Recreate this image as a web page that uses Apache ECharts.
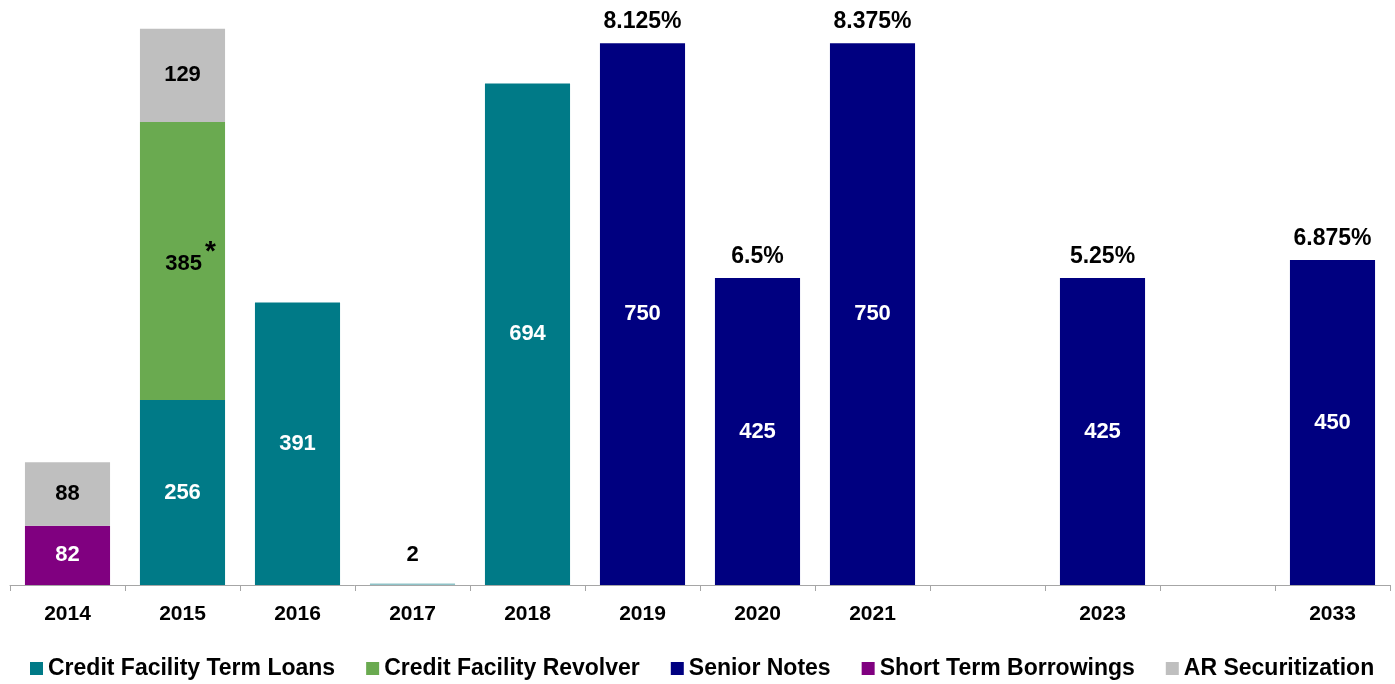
<!DOCTYPE html>
<html>
<head>
<meta charset="utf-8">
<script src="https://cdn.jsdelivr.net/npm/echarts@6/dist/echarts.min.js"></script>
<style>
html,body{margin:0;padding:0;background:#fff;}
#chart{width:1395px;height:684px;}
</style>
</head>
<body>
<div id="chart"></div>
<script>
const categories = ['2014','2015','2016','2017','2018','2019','2020','2021','','2023',' ','2033'];
const termLoans   = [null, 256, 391, 2, 694, null, null, null, null, null, null, null];
const revolver    = [null, 385, null, null, null, null, null, null, null, null, null, null];
const seniorNotes = [null, null, null, null, null, 750, 425, 750, null, 425, null, 450];
const shortTerm   = [82, null, null, null, null, null, null, null, null, null, null, null];
const arSecur     = [88, 129, null, null, null, null, null, null, null, null, null, null];
const seniorRates = [null, null, null, null, null, '8.125%', '6.5%', '8.375%', null, '5.25%', null, '6.875%'];
const revolverNote = '*';

const FONT = '"Liberation Sans", Arial, sans-serif';
const colors = {
  term: '#007A87',
  rev: '#6AAA50',
  senior: '#000080',
  st: '#800080',
  ar: '#BFBFBF'
};

const chart = echarts.init(document.getElementById('chart'));

function valLabel(color) {
  return {
    show: true,
    position: 'inside',
    color: color,
    fontFamily: FONT,
    fontWeight: 'bold',
    fontSize: 22
  };
}

const termData = termLoans.map(function (v) {
  if (v === null) return null;
  if (v < 20) {
    return {
      value: v,
      itemStyle: { color: '#8FC3C8' },
      label: { position: 'top', color: '#000', distance: 18 }
    };
  }
  return v;
});

const revData = revolver.map(function (v) {
  if (v === null) return null;
  return {
    value: v,
    label: {
      formatter: '{a|' + v + '}{s|' + revolverNote + '}',
      offset: [8, 3]
    }
  };
});

const rateData = seniorRates.map(function (r) {
  return r === null ? null : { value: 0, rate: r };
});

const option = {
  animation: false,
  textStyle: { fontFamily: FONT },
  grid: { left: 10, right: 5, top: 7, bottom: 99, containLabel: false },
  legend: {
    data: ['Credit Facility Term Loans', 'Credit Facility Revolver', 'Senior Notes', 'Short Term Borrowings', 'AR Securitization'],
    top: 652,
    left: 25,
    itemWidth: 13,
    itemHeight: 13,
    itemGap: 31,
    icon: 'rect',
    textStyle: { fontFamily: FONT, fontWeight: 'bold', fontSize: 23, color: '#000' }
  },
  xAxis: {
    type: 'category',
    data: categories,
    axisLine: { lineStyle: { color: '#A6A6A6', width: 1 } },
    axisTick: { show: true, alignWithLabel: false, length: 6, lineStyle: { color: '#A6A6A6' }, interval: 0 },
    axisLabel: { interval: 0, margin: 19, color: '#000', fontFamily: FONT, fontWeight: 'bold', fontSize: 21 }
  },
  yAxis: {
    type: 'value',
    min: 0,
    max: 800,
    show: false,
    splitLine: { show: false }
  },
  series: [
    {
      name: 'Short Term Borrowings',
      type: 'bar',
      stack: 'total',
      barCategoryGap: '26%',
      itemStyle: { color: colors.st },
      label: valLabel('#fff'),
      data: shortTerm
    },
    {
      name: 'Credit Facility Term Loans',
      type: 'bar',
      stack: 'total',
      barCategoryGap: '26%',
      itemStyle: { color: colors.term },
      label: valLabel('#fff'),
      data: termData
    },
    {
      name: 'Credit Facility Revolver',
      type: 'bar',
      stack: 'total',
      barCategoryGap: '26%',
      itemStyle: { color: colors.rev },
      label: Object.assign(valLabel('#000'), {
        rich: {
          a: { fontFamily: FONT, fontWeight: 'bold', fontSize: 22, color: '#000' },
          s: { fontFamily: FONT, fontWeight: 'bold', fontSize: 28, color: '#000', padding: [0, 0, 24, 3] }
        }
      }),
      data: revData
    },
    {
      name: 'Senior Notes',
      type: 'bar',
      stack: 'total',
      barCategoryGap: '26%',
      itemStyle: { color: colors.senior },
      label: valLabel('#fff'),
      data: seniorNotes
    },
    {
      name: 'AR Securitization',
      type: 'bar',
      stack: 'total',
      barCategoryGap: '26%',
      itemStyle: { color: colors.ar },
      label: valLabel('#000'),
      data: arSecur
    },
    {
      name: 'Senior Notes Rate',
      type: 'bar',
      stack: 'total',
      barCategoryGap: '26%',
      itemStyle: { color: 'transparent' },
      label: {
        show: true,
        position: 'top',
        distance: 10,
        color: '#000',
        fontFamily: FONT,
        fontWeight: 'bold',
        fontSize: 23,
        formatter: function (p) { return p.data && p.data.rate ? p.data.rate : ''; }
      },
      data: rateData
    }
  ]
};

chart.setOption(option);
</script>
</body>
</html>
